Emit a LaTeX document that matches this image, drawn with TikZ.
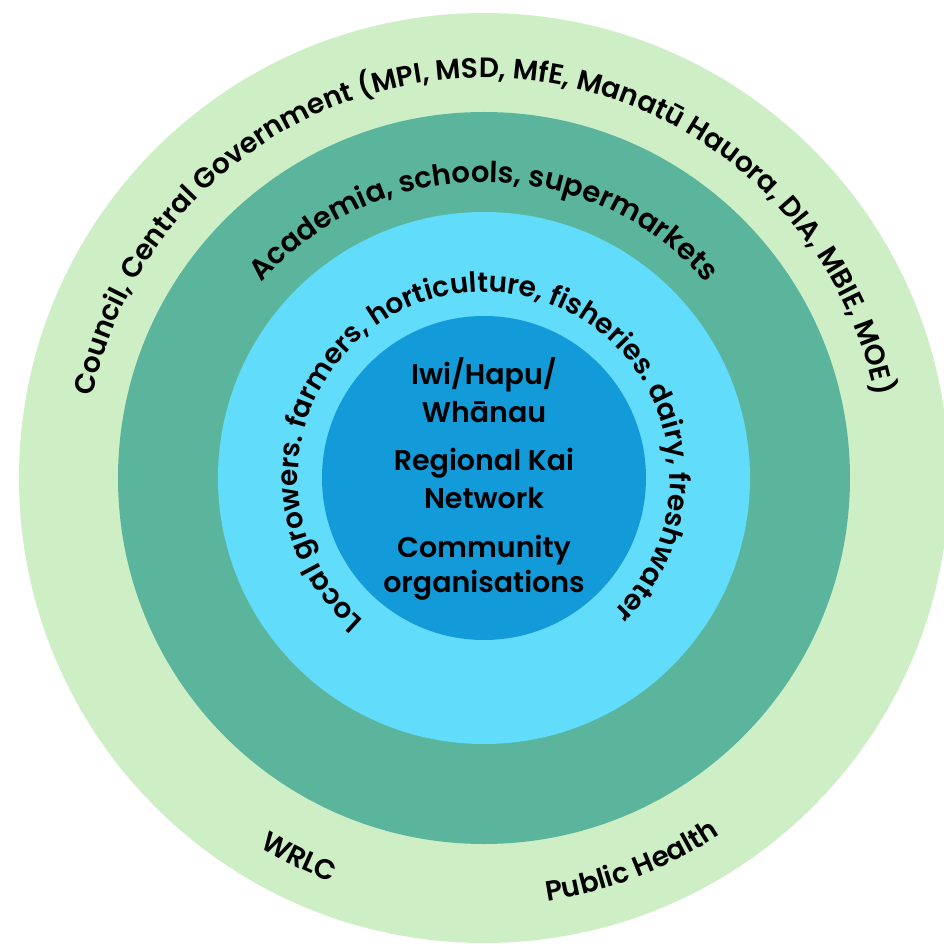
\documentclass[tikz,border=0pt]{standalone}
\usepackage{fontspec}
\setmainfont{Poppins}[UprightFont=* SemiBold]
\usetikzlibrary{decorations.text}
\definecolor{ringout}{HTML}{CEEFC6}
\definecolor{ringteal}{HTML}{5BB59D}
\definecolor{ringlight}{HTML}{62DCFB}
\definecolor{ringcore}{HTML}{139AD8}
\tikzset{
  ringtext/.style={decorate, decoration={text along path, text align=center, text color=black, #1}},
  coretext/.style={anchor=base, inner sep=0pt, font=\fontsize{28.5}{32}\selectfont, text=black}
}
\begin{document}
\begin{tikzpicture}[x=1pt,y=1pt]
\useasboundingbox (-484,-467) rectangle (460,478);
\fill[white] (-484,-467) rectangle (460,478);
\fill[ringout] (0,0) circle[radius=465pt];
\fill[ringteal] (0,0) circle[radius=366pt];
\fill[ringlight] (0,0) circle[radius=266pt];
\fill[ringcore] (0,0) circle[radius=162pt];
% outer ring
\path[ringtext={text={|\fontsize{28}{30}\selectfont|Council, Central Government (MPI, MSD, MfE, Manatū Hauora, DIA, MBIE, MOE)}}]
  (200:400) arc[start angle=200, end angle=-20, radius=400pt];
\path[ringtext={text={|\fontsize{28}{30}\selectfont|WRLC}}]
  (214:432) arc[start angle=214, end angle=274, radius=432pt];
\path[ringtext={text={|\fontsize{28}{30}\selectfont|Public Health}}]
  (251:428) arc[start angle=251, end angle=331, radius=428pt];
% teal ring
\path[ringtext={text={|\fontsize{29}{31}\selectfont|Academia, schools, supermarkets}}]
  (180:296) arc[start angle=180, end angle=0, radius=296pt];
% light ring
\path[ringtext={text={|\fontsize{28}{30}\selectfont|Local growers. farmers, horticulture, fisheries. dairy, freshwater}}]
  (267:186) arc[start angle=267, end angle=-83, radius=186pt];
% core
\node[coretext] (c1) at (0,93) {Iwi/Hapu/};
\node[coretext] (c2) at (0,56) {Whānau};
\node[coretext] (c3) at (0,8) {Regional Kai};
\node[coretext] (c4) at (0,-30) {Network};
\node[coretext] (c5) at (0,-79) {Community};
\node[coretext] (c6) at (0,-114) {organisations};
\end{tikzpicture}
\end{document}
